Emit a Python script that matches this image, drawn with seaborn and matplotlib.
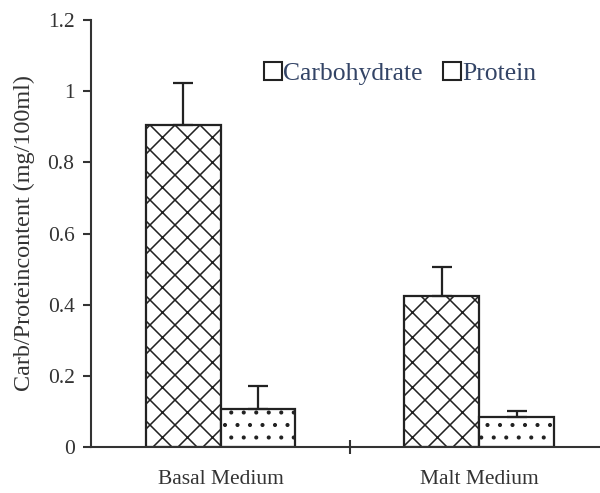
import matplotlib
matplotlib.use("Agg")
import matplotlib.pyplot as plt
import seaborn as sns
import pandas as pd
import numpy as np
from matplotlib.patches import Patch

categories = ["Basal Medium", "Malt Medium"]
series = ["Carbohydrate", "Protein"]
carb_values = [0.905, 0.425]
protein_values = [0.107, 0.085]
carb_err = [0.118, 0.080]
protein_err = [0.065, 0.015]
yticks = [0, 0.2, 0.4, 0.6, 0.8, 1.0, 1.2]
ytick_labels = ["0", "0.2", "0.4", "0.6", "0.8", "1", "1.2"]

df = pd.DataFrame({
    "Medium": categories * 2,
    "Component": [series[0]] * 2 + [series[1]] * 2,
    "Value": carb_values + protein_values,
    "Err": carb_err + protein_err,
})

sns.set_theme(style="white")
plt.rcParams["font.family"] = ["Liberation Serif", "DejaVu Serif"]
plt.rcParams["hatch.linewidth"] = 0.75

DPI = 150
fig = plt.figure(figsize=(600 / DPI, 493 / DPI), dpi=DPI)
ax = fig.add_axes([0.152, 0.0933, 0.862, 0.866])

INK = "#222222"
sns.barplot(data=df, x="Medium", y="Value", hue="Component", order=categories,
            hue_order=series, palette=["white", "white"], edgecolor=INK,
            linewidth=1.07, width=0.58, errorbar=None, ax=ax, legend=False,
            saturation=1)

hatches = {series[0]: "xx", series[1]: ".."}
for container, s in zip(ax.containers, series):
    sub = df[df["Component"] == s].set_index("Medium").loc[categories]
    for bar, v, e in zip(container, sub["Value"], sub["Err"]):
        bar.set_hatch(hatches[s])
        bar.set_edgecolor(INK)
        xc = bar.get_x() + bar.get_width() / 2
        ax.errorbar([xc], [v], yerr=[[0], [e]], fmt="none", ecolor=INK,
                    elinewidth=1.07, capsize=4.7, capthick=1.07, zorder=3)

ax.set_xlim(-0.5, 1.5)
ax.set_ylim(0, 1.2)
ax.set_yticks(yticks)
ax.set_yticklabels(ytick_labels)
ax.set_xlabel("")
ax.set_ylabel("Carb/Proteincontent (mg/100ml)", fontsize=11.6, color="#333333", labelpad=6)

for side in ["top", "right"]:
    ax.spines[side].set_visible(False)
for side in ["left", "bottom"]:
    ax.spines[side].set_color("#333333")
    ax.spines[side].set_linewidth(1.0)

ax.tick_params(axis="y", left=True, direction="out", length=4, width=1.0,
               color="#333333", labelsize=10.3, labelcolor="#333333", pad=4)
ax.tick_params(axis="x", bottom=False, labelsize=10.3, labelcolor="#333333", pad=4.8)
ax.set_xticks([0.5], minor=True)
ax.tick_params(axis="x", which="minor", bottom=True, direction="inout", length=6.5,
               width=1.0, color="#333333")

handles = [Patch(facecolor="white", edgecolor=INK, linewidth=1.0),
           Patch(facecolor="white", edgecolor=INK, linewidth=1.0)]
ax.legend(handles, series, loc="upper left", bbox_to_anchor=(0.29, 0.955),
          ncol=2, frameon=False, fontsize=12.3, handlelength=0.7, handleheight=0.7,
          handletextpad=0.05, columnspacing=0.8, labelcolor="#334466")

fig.savefig("out.png", dpi=DPI)
